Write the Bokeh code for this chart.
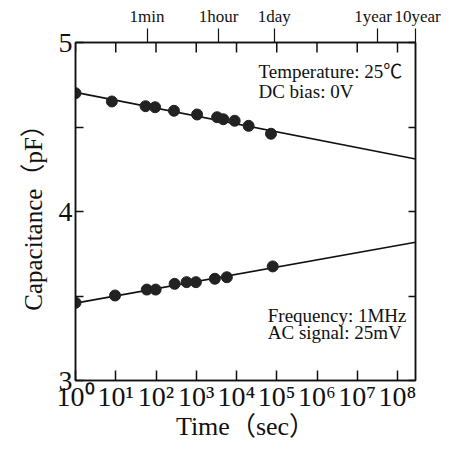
from bokeh.plotting import figure
from bokeh.models import (FixedTicker, LogAxis, LinearAxis, Label, Range1d,
                          CustomJSTickFormatter)
from bokeh.embed import file_html
from bokeh.resources import INLINE

# ---- data ----
time_upper = [1, 8, 55, 95, 280, 1050, 3300, 4700, 9000, 20000, 72000]
cap_upper = [4.700, 4.651, 4.623, 4.617, 4.596, 4.574, 4.558, 4.546, 4.537, 4.507, 4.460]
time_lower = [1, 9.6, 59, 98, 290, 575, 980, 2900, 5750, 79400]
cap_lower = [3.460, 3.503, 3.538, 3.538, 3.572, 3.582, 3.582, 3.602, 3.611, 3.675]
fit_time = [1, 2.8e8]
fit_upper = [4.705, 4.311]
fit_lower = [3.458, 3.818]

decade_ticks = [1, 10, 100, 1000, 1e4, 1e5, 1e6, 1e7, 1e8]
decade_labels = ["10⁰", "10¹", "10²", "10³", "10⁴", "10⁵", "10⁶", "10⁷", "10⁸"]
y_ticks = [3, 3.5, 4, 4.5, 5]
y_labels = ["3", "", "4", "", "5"]
period_times = [60, 3600, 86400, 3.15e7, 2.8e8]
period_labels = ["1min", "1hour", "1day", "1year\u00a0\u00a0", "\u00a010year"]

FONT = "'Liberation Serif', 'Noto Sans CJK JP'"
INK = "#111111"

y_lo, y_hi = 3, 5
FRAME_H = 338
p = figure(x_axis_type="log", x_range=Range1d(1, 2.8e8), y_range=Range1d(y_lo, y_hi),
           frame_width=340, frame_height=FRAME_H,
           min_border_left=75, min_border_right=40, min_border_top=42, min_border_bottom=66,
           output_backend="svg", toolbar_location=None,
           background_fill_color="white", border_fill_color="white")
p.xgrid.visible = False
p.ygrid.visible = False
p.outline_line_color = INK
p.outline_line_width = 1.5

blank = CustomJSTickFormatter(code="return '';")
log_lookup = """
const i = tvals.findIndex(t => Math.abs(Math.log10(t) - Math.log10(tick)) < 1e-6);
return i >= 0 ? tlabels[i] : '';
"""
lin_lookup = """
const i = tvals.findIndex(t => Math.abs(t - tick) < 1e-6);
return i >= 0 ? tlabels[i] : '';
"""

# bottom axis
xa = p.xaxis[0]
xa.ticker = FixedTicker(ticks=decade_ticks, minor_ticks=[])
xa.formatter = CustomJSTickFormatter(args=dict(tvals=decade_ticks, tlabels=decade_labels),
                                     code=log_lookup)
xa.major_tick_in = 10
xa.major_tick_out = 0
xa.minor_tick_in = 0
xa.minor_tick_out = 0
xa.axis_line_color = INK
xa.axis_line_width = 1.5
xa.major_tick_line_color = INK
xa.major_tick_line_width = 1.5
xa.major_label_text_font = FONT
xa.major_label_text_font_size = "28px"
xa.major_label_text_color = INK
xa.major_label_standoff = 0
xa.axis_label = "Time（sec）"
xa.axis_label_text_font = FONT
xa.axis_label_text_font_size = "26px"
xa.axis_label_text_font_style = "normal"
xa.axis_label_text_color = INK
xa.axis_label_standoff = -3

# left axis
ya = p.yaxis[0]
ya.ticker = FixedTicker(ticks=y_ticks, minor_ticks=[])
ya.formatter = CustomJSTickFormatter(args=dict(tvals=y_ticks, tlabels=y_labels), code=lin_lookup)
ya.major_tick_in = 8
ya.major_tick_out = 0
ya.minor_tick_in = 0
ya.minor_tick_out = 0
ya.axis_line_color = INK
ya.axis_line_width = 1.5
ya.major_tick_line_color = INK
ya.major_tick_line_width = 1.5
ya.major_label_text_font = FONT
ya.major_label_text_font_size = "28px"
ya.major_label_text_color = INK
ya.major_label_standoff = 3
ya.axis_label = "Capacitance（pF）"
ya.axis_label_text_font = FONT
ya.axis_label_text_font_size = "25px"
ya.axis_label_text_font_style = "normal"
ya.axis_label_text_color = INK
ya.axis_label_standoff = 9

# top: period markers outward with labels
top_periods = LogAxis(ticker=FixedTicker(ticks=period_times, minor_ticks=[]),
                      formatter=CustomJSTickFormatter(args=dict(tvals=period_times, tlabels=period_labels),
                                                      code=log_lookup),
                      major_tick_in=0, major_tick_out=14, minor_tick_in=0, minor_tick_out=0,
                      axis_line_color=INK, axis_line_width=1.5,
                      major_tick_line_color=INK, major_tick_line_width=1.2,
                      major_label_text_font=FONT, major_label_text_font_size="17px",
                      major_label_text_color=INK, major_label_standoff=3)
p.add_layout(top_periods, "above")

# top decade ticks pointing into the frame (10 px long)
tick_len = (y_hi - y_lo) * 10 / FRAME_H
p.segment(x0=decade_ticks, y0=[y_hi] * len(decade_ticks),
          x1=decade_ticks, y1=[y_hi - tick_len] * len(decade_ticks),
          line_color=INK, line_width=1.5)

# right axis (ticks only)
right = LinearAxis(ticker=FixedTicker(ticks=y_ticks, minor_ticks=[]), formatter=blank,
                   major_tick_in=7, major_tick_out=0, minor_tick_in=0, minor_tick_out=0,
                   axis_line_color=INK, axis_line_width=1.5,
                   major_tick_line_color=INK, major_tick_line_width=1.5,
                   major_label_text_font_size="1px", major_label_standoff=0)
p.add_layout(right, "right")

# fitted lines and measured points
p.line(fit_time, fit_upper, line_color=INK, line_width=1.6)
p.line(fit_time, fit_lower, line_color=INK, line_width=1.6)
p.scatter(time_upper, cap_upper, size=11, fill_color="#222222", line_color="#222222")
p.scatter(time_lower, cap_lower, size=11, fill_color="#222222", line_color="#222222")

# condition notes
notes = [("Temperature: 25℃", 10 ** 4.545, 4.827),
         ("DC bias: 0V", 10 ** 4.545, 4.712),
         ("Frequency: 1MHz", 10 ** 4.776, 3.387),
         ("AC signal: 25mV", 10 ** 4.776, 3.285)]
for txt, x, y in notes:
    p.add_layout(Label(x=x, y=y, text=txt, text_align="left", text_baseline="alphabetic",
                       text_font=FONT, text_font_size="19px", text_color=INK))

open("out.html", "w").write(file_html(p, INLINE))
